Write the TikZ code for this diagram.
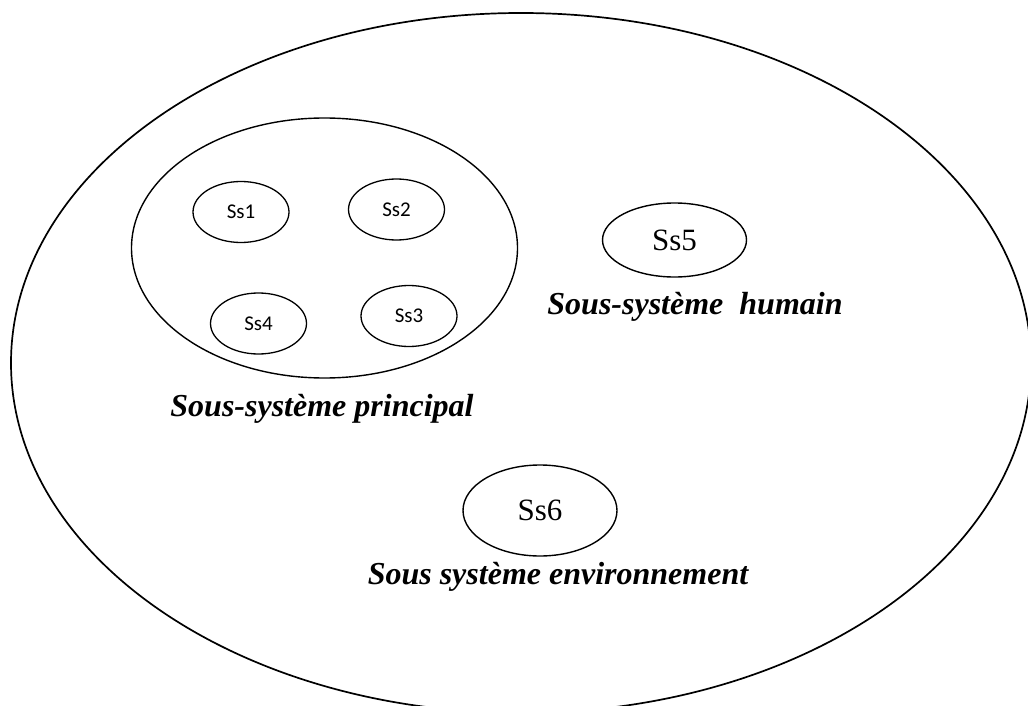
\documentclass[tikz,border=0pt]{standalone}
\usepackage{fontspec}
\setmainfont{Liberation Serif}
\newfontfamily\smallsans{Carlito}
\usetikzlibrary{shapes.geometric}
\begin{document}
\begin{tikzpicture}[x=1pt,y=-1pt,
  sysellipse/.style={ellipse,draw,inner sep=0pt},
  subsys/.style={sysellipse,line width=1.3pt,minimum width=96pt,minimum height=61pt,font=\smallsans\fontsize{21}{24}\selectfont},
  bigsub/.style={sysellipse,line width=1.4pt,font=\fontsize{31}{36}\selectfont},
  caption/.style={font=\bfseries\itshape\fontsize{32}{36}\selectfont}]
  \useasboundingbox (0,0) rectangle (1028,706);
  % whole system
  \node[sysellipse,line width=1.7pt,minimum width=1020pt,minimum height=700pt] (sys) at (521,363) {};
  % main subsystem and its parts
  \node[sysellipse,line width=1.4pt,minimum width=386pt,minimum height=260pt] (main) at (324.5,248) {};
  \node[subsys] (s1) at (241,212) {Ss1};
  \node[subsys] (s2) at (396.5,209.5) {Ss2};
  \node[subsys] (s3) at (409,316) {Ss3};
  \node[subsys] (s4) at (258.5,323.5) {Ss4};
  \node[caption] (mainlbl) at (322,409) {Sous-système principal};
  % human subsystem
  \node[bigsub,minimum width=144pt,minimum height=74pt] (s5) at (674.5,240) {Ss5};
  \node[caption] (humlbl) at (695,307) {Sous-système\ \ humain};
  % environment subsystem
  \node[bigsub,minimum width=154pt,minimum height=91pt] (s6) at (540,510.5) {Ss6};
  \node[caption] (envlbl) at (558,577) {Sous système environnement};
\end{tikzpicture}
\end{document}
